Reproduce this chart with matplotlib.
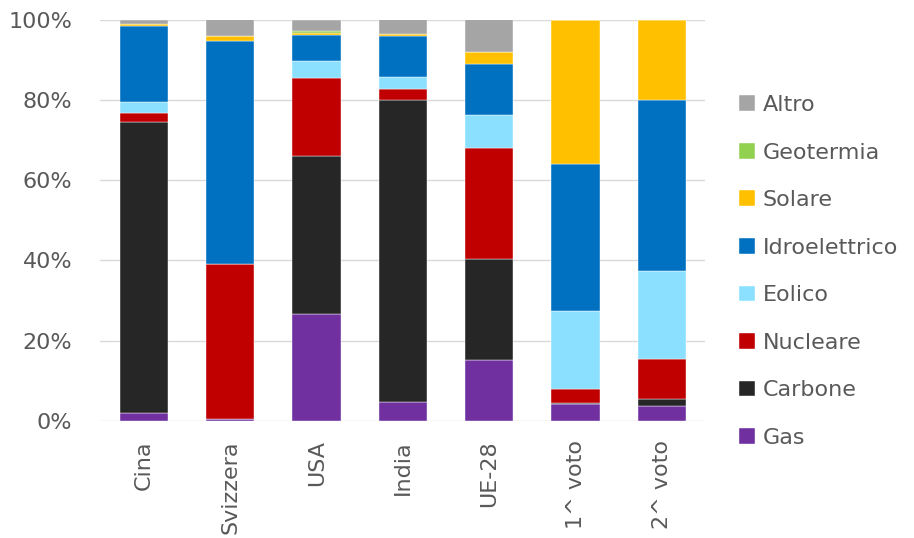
import matplotlib
matplotlib.use("Agg")
import matplotlib.pyplot as plt
import numpy as np

plt.rcParams['font.family'] = ['DejaVu Sans']

# dati (% sul totale della produzione elettrica)
paesi = ["Cina", "Svizzera", "USA", "India", "UE-28", "1^ voto", "2^ voto"]
gas       = [1.9, 0.5, 26.6, 4.8, 15.3, 4.2, 3.8]
carbone   = [72.6, 0.0, 39.5, 75.2, 25.0, 0.3, 1.8]
nucleare  = [2.3, 38.5, 19.4, 2.8, 27.7, 3.5, 9.8]
eolico    = [2.7, 0.2, 4.2, 2.9, 8.1, 19.3, 22.0]
idro      = [19.0, 55.4, 6.5, 10.3, 12.7, 36.6, 42.5]
solare    = [0.4, 1.4, 0.4, 0.4, 3.2, 36.1, 20.1]
geotermia = [0.0, 0.0, 0.5, 0.0, 0.0, 0.0, 0.0]
altro     = [1.1, 4.0, 2.9, 3.6, 8.0, 0.0, 0.0]

serie = [("Gas", gas, "#7030A0"),
         ("Carbone", carbone, "#262626"),
         ("Nucleare", nucleare, "#C00000"),
         ("Eolico", eolico, "#8CE0FF"),
         ("Idroelettrico", idro, "#0070C0"),
         ("Solare", solare, "#FFC000"),
         ("Geotermia", geotermia, "#92D050"),
         ("Altro", altro, "#A5A5A5")]

fig = plt.figure(figsize=(9.14, 5.38), dpi=100)
ax = fig.add_axes([100/914, 1-421/538, 605/914, 401.5/538])

x = np.arange(len(paesi))
base = np.zeros(len(paesi))
handles = []
for nome, vals, col in serie:
    v = np.array(vals) / 100.0
    b = ax.bar(x, v, 0.56, bottom=base, color=col, label=nome,
               edgecolor="white", linewidth=0.3)
    handles.append(b)
    base += v

ax.set_xlim(-0.51, 6.5)
ax.set_ylim(0, 1)
ax.set_yticks(np.arange(0, 1.01, 0.2))
ax.set_yticklabels([f"{int(t*100)}%" for t in np.arange(0, 1.01, 0.2)])
ax.set_xticks(x)
ax.set_xticklabels(paesi, rotation=90)
ax.tick_params(axis="both", length=0, labelsize=16, labelcolor="#595959")
ax.tick_params(axis="x", pad=14)
ax.tick_params(axis="y", pad=20)
ax.yaxis.grid(True, color="#D9D9D9", linewidth=1)
ax.set_axisbelow(True)
for s in ax.spines.values():
    s.set_visible(False)

leg = fig.legend(handles[::-1], [s[0] for s in serie][::-1],
                 loc="upper left", bbox_to_anchor=(719/914, 1-75/538),
                 frameon=False, fontsize=16, labelcolor="#595959",
                 handlelength=0.72, handleheight=0.72, handletextpad=0.36,
                 labelspacing=1.24)

fig.savefig("out.png", dpi=100)
